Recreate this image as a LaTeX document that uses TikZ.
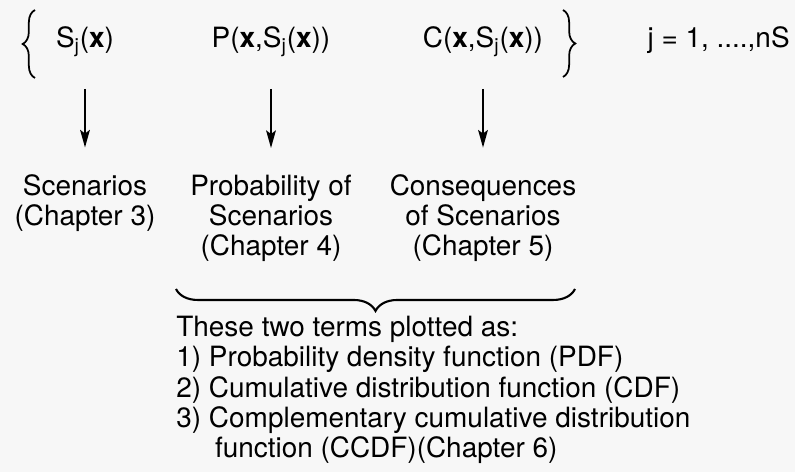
\documentclass[tikz,border=0pt]{standalone}
\usepackage{fontspec}
\setmainfont{TeX Gyre Heros}
\usetikzlibrary{arrows.meta,decorations.pathreplacing}
\definecolor{paper}{HTML}{F7F7F7}

\begin{document}
\begin{tikzpicture}[x=0.02cm,y=-0.02cm,
  txt/.style={font=\fontsize{15.9pt}{17.3pt}\selectfont,inner sep=0pt},
  term/.style={txt,anchor=base},
  label/.style={txt,align=center,anchor=base},
  flow/.style={-{Stealth[length=10pt,width=5.5pt,inset=2pt]},line width=1.3pt,
    shorten <=18pt,shorten >=15pt},
  curly/.style={decorate,decoration={brace,amplitude=#1},line width=1pt},
  curly/.default=7pt]
\fill[paper] (0,0) rectangle (795,472);
% terms of the triplet
\node[term] (scen) at (85,48) {S\textsubscript{j}(\textbf{x})};
\node[term] (prob) at (271,48) {P(\textbf{x},S\textsubscript{j}(\textbf{x}))};
\node[term] (cons) at (483,48) {C(\textbf{x},S\textsubscript{j}(\textbf{x}))};
\node[txt,anchor=base east] (range) at (790,48) {j = 1, ....,nS};
\draw[curly] (35,78) -- (35,10);
\draw[curly] (563,10) -- (563,77);
% chapters (base = last line)
\node[label] (scenlbl) at (85,225.5) {Scenarios\\(Chapter 3)};
\node[label] (problbl) at (271,256) {Probability of\\Scenarios\\(Chapter 4)};
\node[label] (conslbl) at (483,256) {Consequences\\of Scenarios\\(Chapter 5)};
\draw[flow] (scen.south) -- (scenlbl.north);
\draw[flow] (prob.south) -- (problbl.north);
\draw[flow] (cons.south) -- (conslbl.north);
\draw[curly=12.5pt,decoration={mirror},line width=1.2pt] (176,289) -- (575,289);
\node[txt,align=left,anchor=base west] (plots) at (176,458)
  {These two terms plotted as:\\
  1) Probability density function (PDF)\\
  2) Cumulative distribution function (CDF)\\
  3) Complementary cumulative distribution\\
  \hspace{22pt}function (CCDF)(Chapter 6)};
\end{tikzpicture}
\end{document}
